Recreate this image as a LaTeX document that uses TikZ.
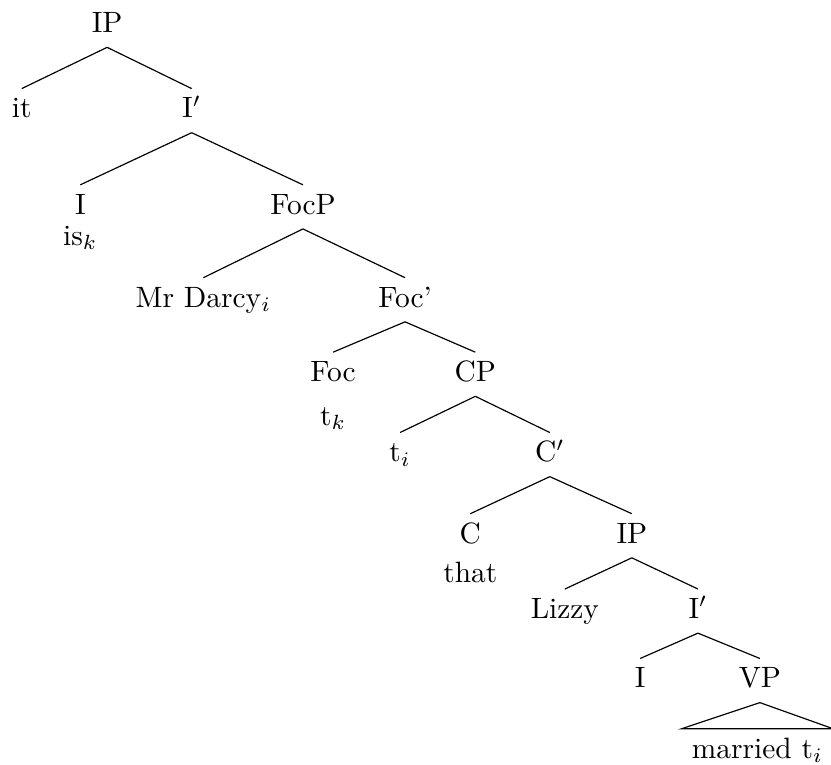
\documentclass[tikz,border=0pt]{standalone}
\begin{document}
\begin{tikzpicture}[scale=1,
    lbl/.style={anchor=base, text height=7pt, text depth=2pt, inner ysep=2.8pt}]
    \useasboundingbox (0,0) rectangle (9.93,-9.13);

    % Main clause.
    \node [lbl] (ip)    at (1.28,-0.39) {IP};
    \node [lbl] (it)    at (0.26,-1.41) {it};
    \node [lbl] (ibar)  at (2.29,-1.41) {I$'$};
    \node [lbl] (i)     at (0.96,-2.56) {I};
    \node [lbl] (is)    at (0.96,-2.93) {is$_k$};

    % Focus phrase.
    \node [lbl] (focp)  at (3.62,-2.56) {FocP};
    \node [lbl] (darcy) at (2.43,-3.67) {Mr Darcy$_i$};
    \node [lbl] (focbar) at (4.84,-3.67) {Foc'};
    \node [lbl] (foc)   at (3.98,-4.56) {Foc};
    \node [lbl] (tk)    at (3.98,-5.08) {t$_k$};

    % Embedded CP.
    \node [lbl] (cp)    at (5.68,-4.56) {CP};
    \node [lbl] (ti)    at (4.78,-5.52) {t$_i$};
    \node [lbl] (cbar)  at (6.57,-5.52) {C$'$};
    \node [lbl] (c)     at (5.62,-6.49) {C};
    \node [lbl] (that)  at (5.62,-6.96) {that};

    % Embedded IP.
    \node [lbl] (ipb)   at (7.55,-6.49) {IP};
    \node [lbl] (lizzy) at (6.75,-7.39) {Lizzy};
    \node [lbl] (ibarb) at (8.34,-7.39) {I$'$};
    \node [lbl] (ib)    at (7.65,-8.22) {I};
    \node [lbl] (vp)    at (9.08,-8.22) {VP};
    \node [lbl] (vpt)   at (9.05,-9.06) {married t$_i$};

    % Branches.
    \draw (ip.south)     -- (it.north);
    \draw (ip.south)     -- (ibar.north);
    \draw (ibar.south)   -- (i.north);
    \draw (ibar.south)   -- (focp.north);
    \draw (focp.south)   -- (darcy.north);
    \draw (focp.south)   -- (focbar.north);
    \draw (focbar.south) -- (foc.north);
    \draw (focbar.south) -- (cp.north);
    \draw (cp.south)     -- (ti.north);
    \draw (cp.south)     -- (cbar.north);
    \draw (cbar.south)   -- (c.north);
    \draw (cbar.south)   -- (ipb.north);
    \draw (ipb.south)    -- (lizzy.north);
    \draw (ipb.south)    -- (ibarb.north);
    \draw (ibarb.south)  -- (ib.north);
    \draw (ibarb.south)  -- (vp.north);

    % Roof over the VP.
    \draw (vp.south) -- (vpt.north west) -- (vpt.north east) -- cycle;
\end{tikzpicture}
\end{document}
